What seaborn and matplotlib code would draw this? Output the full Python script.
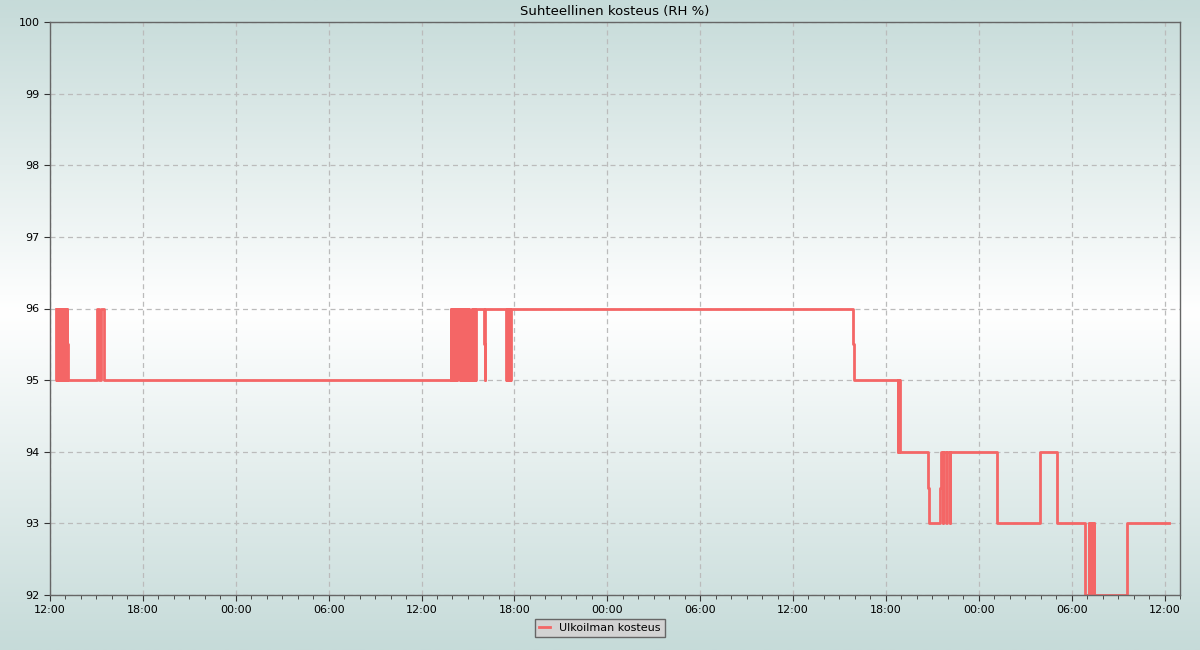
import matplotlib
matplotlib.use('Agg')
import matplotlib.pyplot as plt
import matplotlib.dates as mdates
from matplotlib.colors import LinearSegmentedColormap
import numpy as np
import pandas as pd
import seaborn as sns

# mittaukset: muutoshetket ja arvot (porrasviiva)
aika_1 = ['2024-05-13 12:23', '2024-05-13 12:25', '2024-05-13 12:27', '2024-05-13 12:29',
          '2024-05-13 12:31', '2024-05-13 12:33', '2024-05-13 12:35', '2024-05-13 12:37',
          '2024-05-13 12:39', '2024-05-13 12:41', '2024-05-13 12:43', '2024-05-13 12:45',
          '2024-05-13 12:47', '2024-05-13 12:48', '2024-05-13 12:52', '2024-05-13 12:54',
          '2024-05-13 12:56', '2024-05-13 12:58', '2024-05-13 13:00', '2024-05-13 13:02',
          '2024-05-13 13:04', '2024-05-13 13:07', '2024-05-13 13:11', '2024-05-13 15:02',
          '2024-05-13 15:11', '2024-05-13 15:17', '2024-05-13 15:28']
arvo_1 = [96, 95, 96, 95, 96, 95, 96, 95, 96, 95, 96, 95, 96, 95, 96, 95, 96, 95, 96, 95,
          96, 95.5, 95, 96, 95, 96, 95]

aika_2 = ['2024-05-14 13:54', '2024-05-14 13:56', '2024-05-14 13:58', '2024-05-14 14:00',
          '2024-05-14 14:02', '2024-05-14 14:04', '2024-05-14 14:06', '2024-05-14 14:08',
          '2024-05-14 14:10', '2024-05-14 14:12', '2024-05-14 14:14', '2024-05-14 14:16',
          '2024-05-14 14:18', '2024-05-14 14:29', '2024-05-14 14:31', '2024-05-14 14:33',
          '2024-05-14 14:35', '2024-05-14 14:37', '2024-05-14 14:39', '2024-05-14 14:43',
          '2024-05-14 14:47', '2024-05-14 14:49', '2024-05-14 14:51', '2024-05-14 14:53',
          '2024-05-14 14:55', '2024-05-14 14:57', '2024-05-14 14:59', '2024-05-14 15:01',
          '2024-05-14 15:03', '2024-05-14 15:05', '2024-05-14 15:13', '2024-05-14 15:15',
          '2024-05-14 15:17', '2024-05-14 15:19', '2024-05-14 15:21', '2024-05-14 15:23',
          '2024-05-14 15:25', '2024-05-14 15:27', '2024-05-14 15:29', '2024-05-14 15:31',
          '2024-05-14 16:02', '2024-05-14 16:05', '2024-05-14 16:08', '2024-05-14 17:28',
          '2024-05-14 17:30', '2024-05-14 17:32', '2024-05-14 17:34', '2024-05-14 17:36',
          '2024-05-14 17:38', '2024-05-14 17:40', '2024-05-14 17:42', '2024-05-14 17:44',
          '2024-05-14 17:46']
arvo_2 = [96, 95, 96, 95, 96, 95, 96, 95, 96, 95, 96, 95, 96, 95, 96, 95, 96, 95, 96, 95,
          96, 95, 96, 95, 96, 95, 96, 95, 96, 95, 95.5, 96, 95, 96, 95, 96, 95, 96, 95, 96,
          95.5, 95, 96, 95, 96, 95, 96, 95, 96, 95, 96, 95, 96]

aika_3 = ['2024-05-15 15:51', '2024-05-15 15:56', '2024-05-15 18:46', '2024-05-15 18:48',
          '2024-05-15 18:50', '2024-05-15 18:52', '2024-05-15 18:54', '2024-05-15 20:42',
          '2024-05-15 20:47', '2024-05-15 21:29', '2024-05-15 21:34', '2024-05-15 21:40',
          '2024-05-15 21:42', '2024-05-15 21:53', '2024-05-15 21:55', '2024-05-15 22:08',
          '2024-05-15 22:10']
arvo_3 = [95.5, 95, 94, 95, 94, 95, 94, 93.5, 93, 93.5, 94, 93, 94, 93, 94, 93, 94]

aika_4 = ['2024-05-16 01:09', '2024-05-16 03:57', '2024-05-16 05:02', '2024-05-16 06:53',
          '2024-05-16 07:07', '2024-05-16 07:08', '2024-05-16 07:10', '2024-05-16 07:12',
          '2024-05-16 07:14', '2024-05-16 07:16', '2024-05-16 07:18', '2024-05-16 07:20',
          '2024-05-16 07:22', '2024-05-16 07:24', '2024-05-16 07:26', '2024-05-16 07:28',
          '2024-05-16 09:33', '2024-05-16 12:19']
arvo_4 = [93, 94, 93, 92, 93, 92, 93, 92, 93, 92, 93, 92, 93, 92, 93, 92, 93, 93]

df = pd.DataFrame({
    'aika': pd.to_datetime(aika_1 + aika_2 + aika_3 + aika_4),
    'kosteus': arvo_1 + arvo_2 + arvo_3 + arvo_4,
})

fig = plt.figure(figsize=(12, 6.5), dpi=100)

# taustan liukuvärjäys
bg = fig.add_axes([0, 0, 1, 1], zorder=-10)
cmap = LinearSegmentedColormap.from_list('tausta', [(0, '#c6dbd9'), (0.48, '#ffffff'), (1, '#c6dbd9')])
bg.imshow(np.linspace(0, 1, 256).reshape(-1, 1), aspect='auto', cmap=cmap, extent=[0, 1, 0, 1])
bg.axis('off')

ax = fig.add_axes([50 / 1200, 1 - 595 / 650, 1130 / 1200, 573 / 650])
ax.set_facecolor('none')

sns.lineplot(data=df, x='aika', y='kosteus', ax=ax, drawstyle='steps-post',
             color='#f46666', linewidth=2.0, errorbar=None, label='Ulkoilman kosteus')

ax.set_xlim(pd.Timestamp('2024-05-13 12:00'), pd.Timestamp('2024-05-16 13:00'))
ax.set_ylim(92, 100)
ax.set_yticks(range(92, 101))
ax.xaxis.set_major_locator(mdates.HourLocator(byhour=[0, 6, 12, 18]))
ax.xaxis.set_minor_locator(mdates.HourLocator())
ax.xaxis.set_major_formatter(mdates.DateFormatter('%H:%M'))
ax.set_xlabel('')
ax.set_ylabel('')
ax.set_title('Suhteellinen kosteus (RH %)', fontsize=9.5, pad=5)

ax.grid(True, which='major', linestyle=(0, (4, 3)), color='#bbbbbb', linewidth=0.9)
ax.tick_params(axis='both', which='major', labelsize=8, length=4, color='#333333')
ax.tick_params(axis='x', which='minor', length=3, color='#333333')
for s in ax.spines.values():
    s.set_color('#666666')
    s.set_linewidth(1)

ax.legend_.remove()
h, l = ax.get_legend_handles_labels()
leg = fig.legend(h, l, loc='center', bbox_to_anchor=(0.5, 1 - 628 / 650), fontsize=8,
                 handlelength=1.0, fancybox=False, framealpha=1, borderpad=0.4)
leg.get_frame().set_facecolor('#d3d3d3')
leg.get_frame().set_edgecolor('#666666')

fig.savefig('out.png', dpi=100)
